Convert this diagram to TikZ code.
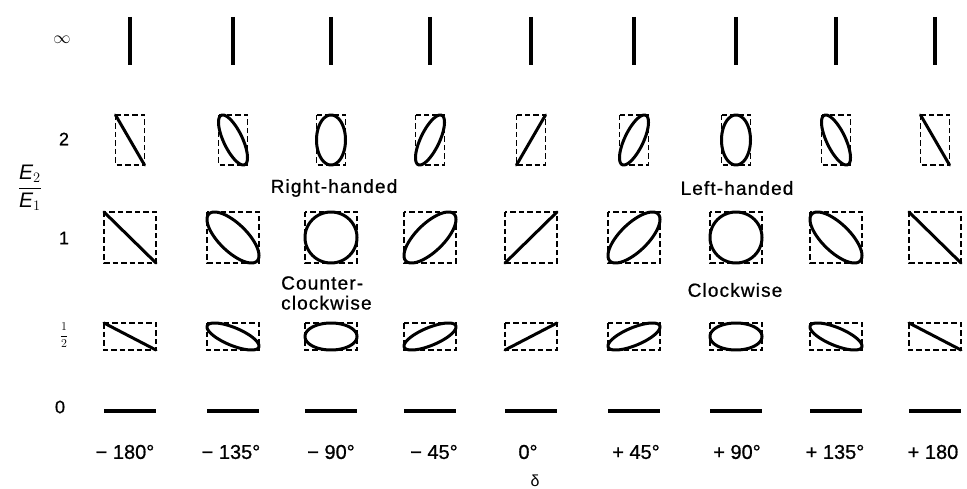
\documentclass[tikz,border=0pt]{standalone}
\usepackage{fontspec}
\setmainfont{Liberation Sans}
\begin{document}
\begin{tikzpicture}[x=1pt,y=-1pt,
  ell/.style={line width=3pt,line join=round,line cap=round},
  dbox/.style={line width=1.4pt,dash pattern=on 5.5pt off 3pt},
  lin/.style={line width=3.2pt},
  lbl/.style={font=\fontsize{20}{24}\selectfont\addfontfeatures{FakeBold=0.8},inner sep=0pt},
  rowlbl/.style={font=\fontsize{18}{20}\selectfont\addfontfeatures{FakeBold=0.8},inner sep=0pt},
  hand/.style={font=\fontsize{19}{20}\selectfont\addfontfeatures{LetterSpace=6,FakeBold=0.8},inner sep=0pt},
]
\path[use as bounding box] (0,0) rectangle (967,489);
% columns
\foreach \cx/\dd in {130/-180,233/-135,331/-90,430/-45,531/0,634/45,736/90,836/135,935/180}{
  % infinity row
  \draw[lin] (\cx,17) -- (\cx,65);
  % row 2
  \draw[dbox] ({\cx-14.5},115) rectangle ({\cx+14.5},165);
  \draw[ell] plot[domain=0:360,samples=91] ({\cx+14.5*cos(\x)},{140-25*cos(\x+\dd)}) -- cycle;
  % row 1
  \draw[dbox] ({\cx-26},212) rectangle ({\cx+26},263);
  \draw[ell] plot[domain=0:360,samples=91] ({\cx+26*cos(\x)},{237.5-25.5*cos(\x+\dd)}) -- cycle;
  % row 1/2
  \draw[dbox] ({\cx-26},323) rectangle ({\cx+26},350);
  \draw[ell] plot[domain=0:360,samples=91] ({\cx+26*cos(\x)},{336.5-13.5*cos(\x+\dd)}) -- cycle;
  % row 0
  \draw[lin] ({\cx-26},411) -- ({\cx+26},411);
}
% bottom labels
\foreach \lx/\t [count=\i] in {125/{− 180°},231/{− 135°},331/{− 90°},434/{− 45°},528/{0°},636/{+ 45°},737/{+ 90°},835/{+ 135°},933/{+ 180}}{
  \node[lbl] (d\i) at (\lx,452) {\t};
}
\node[font=\fontsize{16}{16}\selectfont,inner sep=0pt] (delta) at (535,481) {δ};
% row labels
\node[inner sep=0pt,font=\fontsize{17}{17}\selectfont] (rinf) at (62,40) {$\infty$};
\node[rowlbl] (r2) at (64,139) {2};
\node[rowlbl] (r1) at (64,238) {1};
\node[inner sep=0pt,font=\fontsize{12}{14}\selectfont] (rhalf) at (64,335) {$\displaystyle\frac{1}{2}$};
\node[rowlbl] (r0) at (60,407) {0};
\node[inner sep=0pt,font=\fontsize{21}{24}\selectfont] (ratio) at (30,188) {$\displaystyle\frac{\textit{E}_2}{\textit{E}_1}$};
% handedness labels
\node[hand] (rh) at (334,188) {Right-handed};
\node[hand] (lh) at (737,188) {Left-handed};
\node[hand,align=left,anchor=west] (ccw) at (281,293) {Counter-\\clockwise};
\node[hand] (cw) at (735,290) {Clockwise};
\end{tikzpicture}
\end{document}
